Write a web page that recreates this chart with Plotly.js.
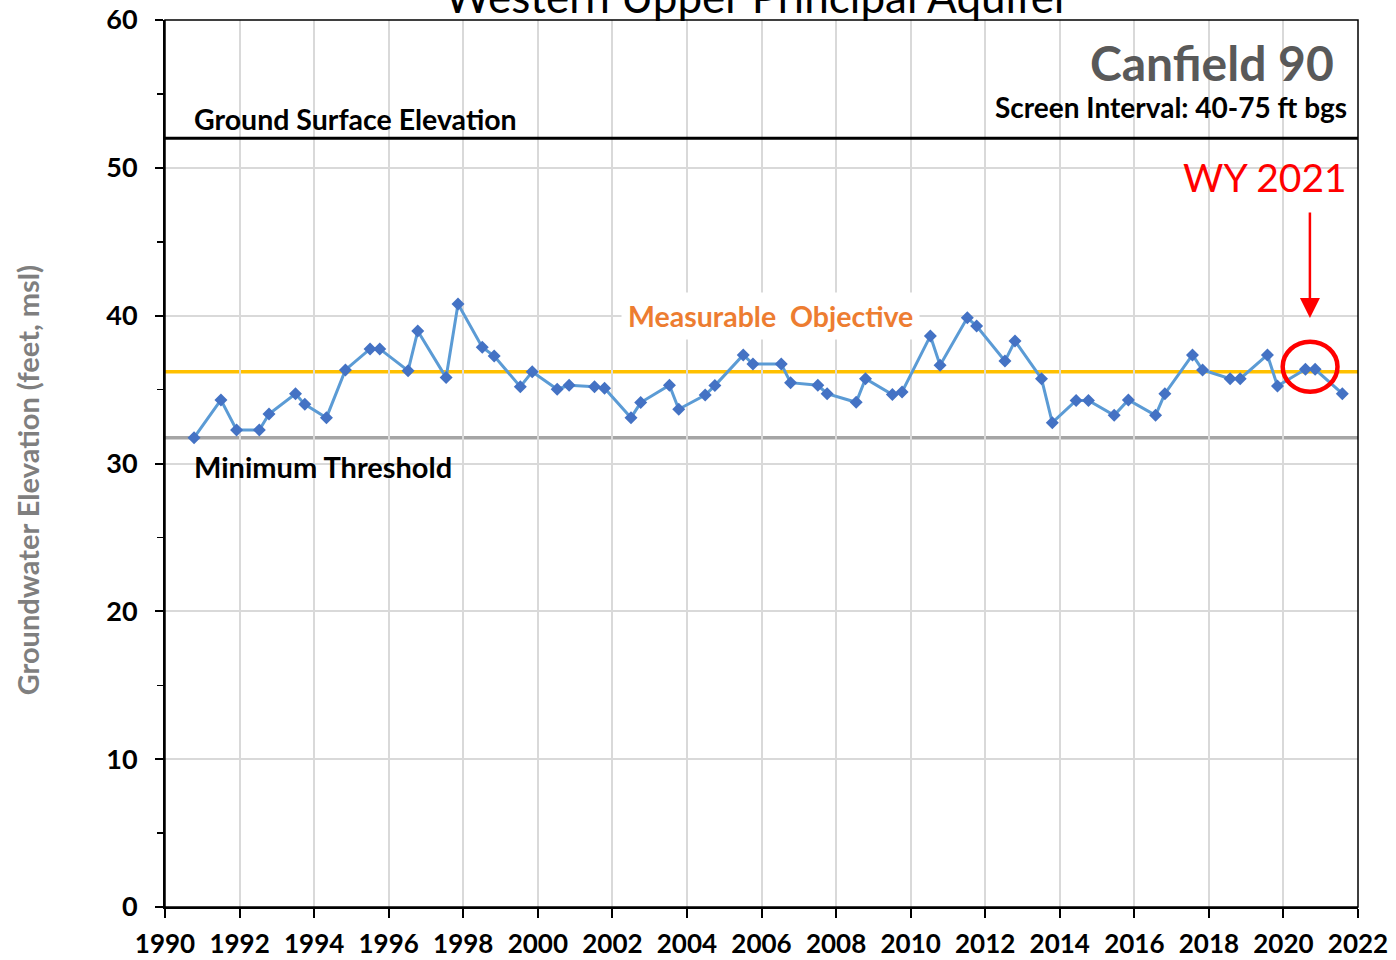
<!DOCTYPE html>
<html>
<head>
<meta charset="utf-8">
<script src="https://cdn.plot.ly/plotly-3.0.1.min.js"></script>
<style>html,body{margin:0;padding:0;background:#fff;}#chart{width:1396px;height:960px;}</style>
</head>
<body>
<div id="chart"></div>
<script>
// ---- data ----
const years = [1990.78,1991.50,1991.92,1992.53,1992.79,1993.50,1993.75,1994.33,1994.84,1995.50,1995.76,
  1996.52,1996.78,1997.54,1997.86,1998.51,1998.83,1999.53,1999.85,2000.52,2000.84,2001.52,2001.79,
  2002.50,2002.76,2003.53,2003.78,2004.49,2004.75,2005.51,2005.77,2006.53,2006.78,2007.51,2007.76,
  2008.54,2008.79,2009.51,2009.77,2010.53,2010.79,2011.52,2011.77,2012.53,2012.80,2013.51,2013.80,
  2014.44,2014.77,2015.46,2015.84,2016.57,2016.82,2017.56,2017.83,2018.57,2018.84,2019.57,2019.84,
  2020.59,2020.85,2021.58];
const elevation = [31.75,34.30,32.27,32.27,33.35,34.72,34.00,33.10,36.33,37.75,37.75,
  36.28,38.96,35.81,40.79,37.86,37.27,35.20,36.21,35.02,35.29,35.20,35.09,
  33.10,34.12,35.29,33.67,34.63,35.27,37.34,36.73,36.73,35.47,35.29,34.72,
  34.14,35.74,34.66,34.84,38.63,36.64,39.86,39.30,36.93,38.29,35.74,32.76,
  34.27,34.27,33.26,34.30,33.26,34.72,37.34,36.33,35.74,35.74,37.34,35.24,
  36.37,36.37,34.72];
const groundSurface = 52;
const measurableObjective = 36.2;
const minimumThreshold = 31.75;
const xTickVals = [1990,1992,1994,1996,1998,2000,2002,2004,2006,2008,2010,2012,2014,2016,2018,2020,2022];
const xTickText = xTickVals.map(String);
const yTickVals = [0,10,20,30,40,50,60];

const F = 'Lato, "Open Sans", sans-serif';

const trace = {
  x: years, y: elevation, type: 'scatter', mode: 'lines+markers',
  line: {color: '#5B9BD5', width: 3},
  marker: {symbol: 'diamond', size: 10, color: '#4472C4'},
  hoverinfo: 'x+y', showlegend: false
};

const layout = {
  width: 1396, height: 960,
  margin: {l: 165, r: 38, t: 20, b: 53},
  paper_bgcolor: '#fff', plot_bgcolor: '#fff',
  showlegend: false,
  xaxis: {
    range: [1990, 2022], tickvals: xTickVals, ticktext: xTickText,
    showgrid: true, gridcolor: '#D9D9D9', gridwidth: 2,
    showline: true, linecolor: '#000', linewidth: 2,
    ticks: 'outside', ticklen: 9, tickwidth: 2, tickcolor: '#000',
    tickfont: {family: F, size: 26, color: '#000', weight: 'bold'},
    ticklabelstandoff: 4,
    zeroline: false, fixedrange: true
  },
  yaxis: {
    range: [0, 60], tickvals: yTickVals,
    showgrid: true, gridcolor: '#D9D9D9', gridwidth: 2,
    showline: true, linecolor: '#000', linewidth: 2,
    ticks: 'outside', ticklen: 8, tickwidth: 2, tickcolor: '#000',
    minor: {dtick: 5, ticks: 'outside', ticklen: 6, tickwidth: 1.5, tickcolor: '#000', showgrid: false},
    tickfont: {family: F, size: 27, color: '#000', weight: 'bold'},
    ticklabelstandoff: 12,
    zeroline: false, fixedrange: true
  },
  yaxis2: {
    range: [0, 60], overlaying: 'y', side: 'left', tickvals: yTickVals,
    showgrid: false, showticklabels: false, showline: false, zeroline: false,
    ticks: 'inside', ticklen: 8, tickwidth: 2, tickcolor: '#000',
    minor: {dtick: 5, ticks: 'inside', ticklen: 6, tickwidth: 1.5, tickcolor: '#000', showgrid: false},
    fixedrange: true
  },
  shapes: [
    {type: 'rect', xref: 'paper', yref: 'paper', x0: 0, x1: 1, y0: 0, y1: 1, line: {color: '#000', width: 1.5}},
    {type: 'line', xref: 'paper', yref: 'y', x0: 0, x1: 1, y0: minimumThreshold, y1: minimumThreshold, line: {color: '#A5A5A5', width: 3.5}, layer: 'below'},
    {type: 'line', xref: 'paper', yref: 'y', x0: 0, x1: 1, y0: measurableObjective, y1: measurableObjective, line: {color: '#FFC000', width: 3.5}, layer: 'below'},
    {type: 'line', xref: 'paper', yref: 'y', x0: 0, x1: 1, y0: groundSurface, y1: groundSurface, line: {color: '#000', width: 3}},
    {type: 'circle', xref: 'x', yref: 'y', x0: 2019.98, x1: 2021.45, y0: 34.86, y1: 38.24, line: {color: '#FF0000', width: 4.5}}
  ],
  annotations: [
    {text: 'Western Upper Principal Aquifer', xref: 'paper', yref: 'paper', x: 0.497, y: 1.027,
     xanchor: 'center', yanchor: 'middle', showarrow: false, font: {family: F, size: 44, color: '#000'}},
    {text: 'Canfield 90', xref: 'x', yref: 'y', x: 2021.4, y: 57.1, xanchor: 'right', yanchor: 'middle',
     showarrow: false, font: {family: F, size: 48, color: '#595959', weight: 'bold'}},
    {text: 'Screen Interval: 40-75 ft bgs', xref: 'x', yref: 'y', x: 2021.75, y: 54.1, xanchor: 'right', yanchor: 'middle',
     showarrow: false, font: {family: F, size: 28, color: '#000', weight: 'bold'}},
    {text: 'Ground Surface Elevation', xref: 'x', yref: 'y', x: 1990.72, y: 53.3, xanchor: 'left', yanchor: 'middle',
     showarrow: false, font: {family: F, size: 28.5, color: '#000', weight: 'bold'}},
    {text: 'WY 2021', xref: 'x', yref: 'y', x: 2021.75, y: 49.4, xanchor: 'right', yanchor: 'middle',
     showarrow: false, font: {family: F, size: 39, color: '#FF0000'}},
    {text: 'Measurable  Objective', xref: 'x', yref: 'y', x: 2006.23, y: 40.0, xanchor: 'center', yanchor: 'middle',
     showarrow: false, bgcolor: '#fff', borderpad: 6, font: {family: F, size: 28.5, color: '#ED7D31', weight: 'bold'}},
    {text: 'Minimum Threshold', xref: 'x', yref: 'y', x: 1990.72, y: 29.8, xanchor: 'left', yanchor: 'middle',
     showarrow: false, font: {family: F, size: 29, color: '#000', weight: 'bold'}},
    {text: 'Groundwater Elevation (feet, msl)', xref: 'paper', yref: 'paper', x: -0.1157, y: 0.481,
     xanchor: 'center', yanchor: 'middle', textangle: -90, showarrow: false,
     font: {family: F, size: 29, color: '#7F7F7F', weight: 'bold'}},
    {text: '', xref: 'x', yref: 'y', x: 2020.71, y: 39.84, showarrow: true, ax: 0, ay: -107,
     arrowhead: 2, arrowsize: 1.6, arrowwidth: 2.5, arrowcolor: '#FF0000', standoff: 0}
  ]
};

Plotly.newPlot('chart', [trace], layout, {staticPlot: true, displayModeBar: false});
</script>
</body>
</html>
